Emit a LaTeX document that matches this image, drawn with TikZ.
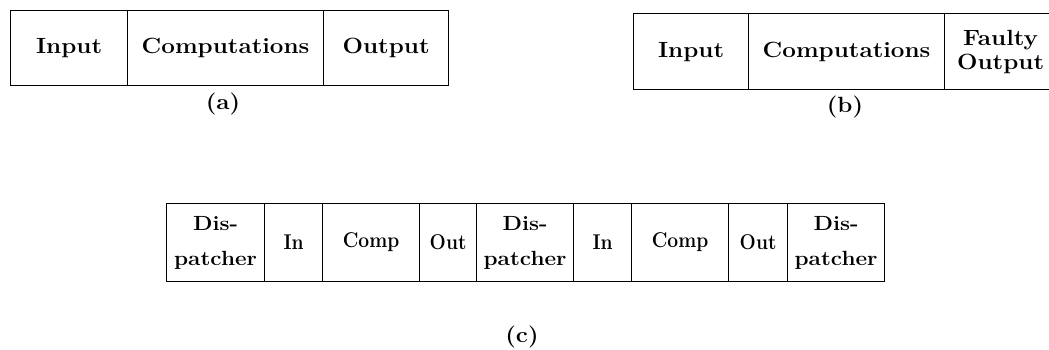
\documentclass[tikz,border=0pt]{standalone}
\usepackage{graphicx}
\newcommand{\sx}[1]{\scalebox{1.1}[1]{#1}}
\newcommand{\sxy}[1]{\scalebox{1.1}[1.22]{#1}}
\begin{document}
\begin{tikzpicture}[x=1pt,y=-1pt,
  cell/.style={draw=black,line width=1.2pt,inner sep=0pt,anchor=north west,align=center},
  big/.style={font=\fontsize{22}{24}\selectfont\bfseries},
  mid/.style={font=\fontsize{20.5}{35}\selectfont\bfseries},
  small/.style={font=\fontsize{17.5}{19}\selectfont\bfseries},
  lbltext/.style={font=\fontsize{22}{24}\selectfont\bfseries}]
\useasboundingbox (0,0) rectangle (1049,350);
\begin{scope}
\clip (0,0) rectangle (1049,350);
% (a)
\node[cell,big,minimum width=117pt,minimum height=75pt] (ain) at (10,10) {\sx{Input}};
\node[cell,big,minimum width=196pt,minimum height=75pt] (acomp) at (127,10) {\sx{Computations}};
\node[cell,big,minimum width=125pt,minimum height=75pt] (aout) at (323,10) {\sx{Output}};
\node[lbltext] (alab) at (223,104) {\sx{(a)}};
% (b)
\node[cell,big,minimum width=115pt,minimum height=76pt] (bin) at (633,13) {\sx{Input}};
\node[cell,big,minimum width=196pt,minimum height=76pt] (bcomp) at (748,13) {\sx{Computations}};
\node[cell,big,minimum width=112pt,minimum height=76pt,text width=112pt] (bout) at (944,13) {\sx{Faulty}\\\sx{Output}};
\node[lbltext] (blab) at (845,107) {\sx{(b)}};
% (c)
\node[cell,mid,minimum width=98pt,minimum height=78pt,text width=98pt] (d1) at (166,203) {\sx{Dis-}\\\sx{patcher}};
\node[cell,small,minimum width=58pt,minimum height=78pt] (i1) at (264,203) {\sxy{In}};
\node[cell,small,minimum width=97pt,minimum height=78pt] (c1) at (322,203) {\sxy{Comp}};
\node[cell,small,minimum width=57pt,minimum height=78pt] (o1) at (419,203) {\sxy{Out}};
\node[cell,mid,minimum width=97pt,minimum height=78pt,text width=97pt] (d2) at (476,203) {\sx{Dis-}\\\sx{patcher}};
\node[cell,small,minimum width=58pt,minimum height=78pt] (i2) at (573,203) {\sxy{In}};
\node[cell,small,minimum width=97pt,minimum height=78pt] (c2) at (631,203) {\sxy{Comp}};
\node[cell,small,minimum width=59pt,minimum height=78pt] (o2) at (728,203) {\sxy{Out}};
\node[cell,mid,minimum width=97pt,minimum height=78pt,text width=97pt] (d3) at (787,203) {\sx{Dis-}\\\sx{patcher}};
\node[lbltext] (clab) at (522,337) {\sx{(c)}};
\end{scope}
\end{tikzpicture}
\end{document}
